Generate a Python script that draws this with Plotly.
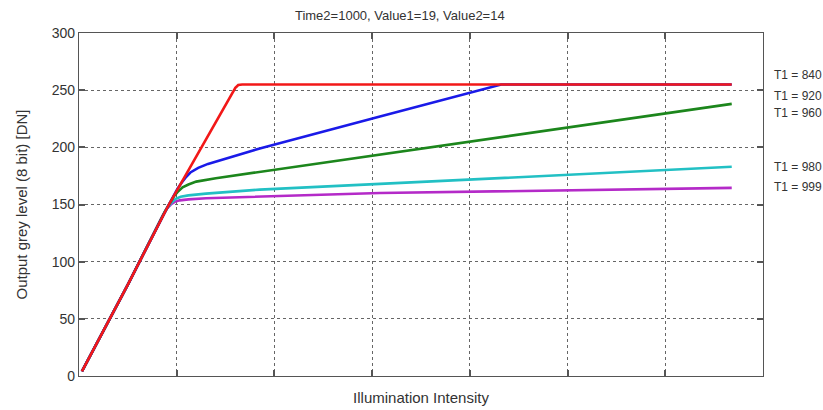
import plotly.graph_objects as go

# ---- data ----
red_x = [0.03, 0.50, 0.92, 1.60, 1.63, 1.67, 6.68]
red_y = [4, 80, 150, 252, 254.5, 255, 255]

blue_x = [0.03, 0.50, 0.92, 0.97, 1.01, 1.05, 1.09, 1.14, 1.22, 1.32, 1.50, 1.85, 3.08, 4.26, 4.32, 6.68]
blue_y = [4, 80, 150, 158, 164, 169, 173.5, 178, 182, 185.5, 190, 199, 227, 254, 255, 255]

green_x = [0.03, 0.50, 0.88, 0.93, 0.97, 1.01, 1.06, 1.12, 1.20, 1.40, 1.85, 3.08, 6.68]
green_y = [4, 80, 144, 151, 157, 161, 165, 167.5, 170, 173, 178.5, 194, 238]

cyan_x = [0.03, 0.50, 0.87, 0.91, 0.95, 0.99, 1.04, 1.12, 1.30, 1.85, 3.08, 6.68]
cyan_y = [4, 80, 142, 148, 152, 155, 156.8, 158, 159.5, 163, 168, 183]

mag_x = [0.03, 0.50, 0.86, 0.90, 0.94, 0.98, 1.03, 1.12, 1.30, 1.85, 3.08, 6.68]
mag_y = [4, 80, 141, 146.5, 150, 152.3, 153.6, 154.5, 155.5, 157, 160, 164.5]

series_names = ["T1 = 840", "T1 = 920", "T1 = 960", "T1 = 980", "T1 = 999"]
label_y = [263, 245, 230, 183, 165]
y_ticks = [0, 50, 100, 150, 200, 250, 300]
x_ticks = [1, 2, 3, 4, 5, 6]

colors = ["#f21818", "#1a1ae8", "#1c861c", "#22c0c4", "#b42ac8"]
xs = [red_x, blue_x, green_x, cyan_x, mag_x]
ys = [red_y, blue_y, green_y, cyan_y, mag_y]

FONT = "Liberation Sans, Arial"

fig = go.Figure()
order = [4, 3, 2, 1, 0]
for i in order:
    fig.add_trace(go.Scatter(x=xs[i], y=ys[i], mode="lines",
                             line=dict(color=colors[i], width=2.6),
                             name=series_names[i], showlegend=False))

for name, yy in zip(series_names, label_y):
    fig.add_annotation(x=1.013, xref="paper", y=yy, yref="y", text=name,
                       showarrow=False, xanchor="left", yanchor="middle",
                       font=dict(family=FONT, size=12, color="#333"))

axis_common = dict(showline=True, linecolor="#555", linewidth=1.3, mirror="ticks",
                   ticks="inside", ticklen=6, tickcolor="#555", tickwidth=1.5,
                   showgrid=True, gridcolor="#666", griddash="dot", gridwidth=1,
                   zeroline=False, automargin=False)

fig.update_layout(
    width=823, height=410,
    margin=dict(l=79, r=60, t=33, b=34),
    paper_bgcolor="white", plot_bgcolor="white",
    title=dict(text="Time2=1000, Value1=19, Value2=14", x=386 / 823, xanchor="center",
               y=1 - 15 / 410, yanchor="middle", xref="paper",
               font=dict(family=FONT, size=13, color="#333")),
    xaxis=dict(range=[0, 7], tickvals=x_ticks, showticklabels=False,
               title=dict(text="Illumination Intensity", standoff=16,
                          font=dict(family=FONT, size=15, color="#333")),
               **axis_common),
    yaxis=dict(range=[0, 300], tickvals=y_ticks,
               tickfont=dict(family=FONT, size=14, color="#333"),
               title=dict(text="Output grey level (8 bit) [DN]", standoff=20,
                          font=dict(family=FONT, size=15, color="#333")),
               **axis_common),
)

fig.write_html("out.html")
